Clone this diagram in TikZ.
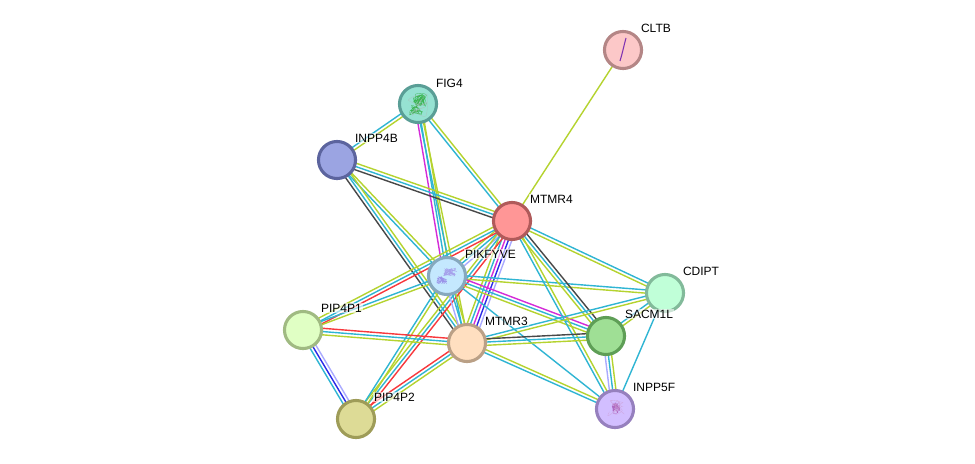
\documentclass[tikz,border=0pt]{standalone}
\usepackage{fontspec}
\setmainfont{Liberation Sans}
\usetikzlibrary{calc,backgrounds}
\definecolor{cy}{HTML}{2FB5D3}
\definecolor{yl}{HTML}{B5D32F}
\definecolor{rd}{HTML}{F8383C}
\definecolor{bl}{HTML}{2A2AE8}
\definecolor{mg}{HTML}{D42BD8}
\definecolor{lv}{HTML}{AAAAFF}
\definecolor{dk}{HTML}{484848}
\definecolor{fcltb}{HTML}{FCC8C8}\definecolor{dcltb}{HTML}{B48686}
\definecolor{ffig}{HTML}{96E2D2}\definecolor{dfig}{HTML}{5A9E96}
\definecolor{finpb}{HTML}{9BA4E2}\definecolor{dinpb}{HTML}{5C649E}
\definecolor{fmtmf}{HTML}{FF9696}\definecolor{dmtmf}{HTML}{B05A5A}
\definecolor{fpik}{HTML}{C4E8FE}\definecolor{dpik}{HTML}{86A8BE}
\definecolor{fcdipt}{HTML}{C0FFD8}\definecolor{dcdipt}{HTML}{82BA9A}
\definecolor{fsac}{HTML}{9FDF95}\definecolor{dsac}{HTML}{5E9E56}
\definecolor{fmtmt}{HTML}{FFDFC0}\definecolor{dmtmt}{HTML}{BAA086}
\definecolor{fpa}{HTML}{E0FFC4}\definecolor{dpa}{HTML}{A0BA82}
\definecolor{fpb}{HTML}{DDDB96}\definecolor{dpb}{HTML}{9E9C58}
\definecolor{finpf}{HTML}{D2BEFF}\definecolor{dinpf}{HTML}{9680BE}
\tikzset{
  x=0.75pt,y=-0.75pt,
  prot/.style={circle,draw=d#1,fill=f#1,line width=2.3pt,minimum size=27.8pt,inner sep=0pt},
  lab/.style={anchor=west,font=\fontsize{9}{10}\selectfont,text=black,fill=white,fill opacity=.6,text opacity=1,inner sep=.6pt},
  linkline/.style={line width=1.05pt},
  scrib/.style={line width=.2pt,opacity=.6},
}
% first colour lies on the right-hand side of the direction a -> b
\newcommand{\netlink}[4]{%
  \foreach \colr [count=\i] in {#4}{%
    \pgfmathsetmacro{\off}{(\i-(#3+1)/2)*2.45}%
    \draw[linkline,\colr] ($(#1)!\off pt!90:(#2)$) -- ($(#2)!\off pt!-90:(#1)$);
  }}
\newcommand{\scribble}[6]{% cx cy rx ry colour samples
  \draw[scrib,#5] plot[smooth,samples=#6,domain=1:#6] ({#1+#3*rand},{#2+#4*rand});}
\begin{document}
\begin{tikzpicture}
\useasboundingbox (0,0) rectangle (975,464);
\node[prot=cltb] (cltb) at (623,50) {};
\node[prot=fig] (fig) at (418,104) {};
\node[prot=inpb] (inpb) at (337,160) {};
\node[prot=mtmf] (mtmf) at (512,221) {};
\node[prot=pik] (pik) at (447,276) {};
\node[prot=cdipt] (cdipt) at (665,293) {};
\node[prot=sac] (sac) at (606,336) {};
\node[prot=mtmt] (mtmt) at (467,343) {};
\node[prot=pa] (pa) at (303,330) {};
\node[prot=pb] (pb) at (356,419) {};
\node[prot=inpf] (inpf) at (615,409) {};
\begin{pgfonlayer}{background}
\fill[white] (0,0) rectangle (975,464);
\netlink{mtmf}{cltb}{1}{yl}
\netlink{inpb}{fig}{2}{yl,cy}
\netlink{fig}{mtmf}{2}{cy,yl}
\netlink{fig}{pik}{3}{mg,cy,yl}
\netlink{fig}{mtmt}{2}{cy,yl}
\netlink{inpb}{mtmf}{3}{dk,cy,yl}
\netlink{inpb}{pik}{2}{cy,yl}
\netlink{inpb}{mtmt}{3}{dk,cy,yl}
\netlink{mtmf}{pik}{3}{yl,cy,lv}
\netlink{mtmf}{mtmt}{5}{yl,cy,mg,bl,lv}
\netlink{pa}{mtmf}{3}{rd,cy,yl}
\netlink{pa}{pik}{2}{yl,cy}
\netlink{mtmf}{pb}{3}{yl,cy,rd}
\netlink{pik}{pb}{2}{cy,yl}
\netlink{mtmt}{pa}{3}{rd,cy,yl}
\netlink{mtmt}{pb}{3}{rd,cy,yl}
\netlink{pa}{pb}{3}{cy,bl,lv}
\netlink{pik}{mtmt}{3}{lv,cy,yl}
\netlink{pik}{cdipt}{2}{yl,cy}
\netlink{pik}{sac}{3}{yl,cy,mg}
\netlink{pik}{inpf}{1}{cy}
\netlink{mtmf}{cdipt}{2}{yl,cy}
\netlink{mtmf}{sac}{3}{yl,cy,dk}
\netlink{mtmf}{inpf}{2}{cy,yl}
\netlink{mtmt}{cdipt}{2}{yl,cy}
\netlink{mtmt}{sac}{3}{yl,cy,dk}
\netlink{mtmt}{inpf}{2}{cy,yl}
\netlink{sac}{cdipt}{2}{yl,cy}
\netlink{sac}{inpf}{3}{lv,cy,yl}
\netlink{cdipt}{inpf}{1}{cy}
\end{pgfonlayer}
\pgfmathsetseed{7}
% protein structure sketches
\draw[line width=.8pt,color=violet!75!blue!80] (626,38) .. controls (624,45) and (623,51) .. (620,61);
\scribble{420}{100}{7}{6}{green!60!black}{45}
\scribble{416}{110}{7}{5}{green!60!black}{25}
\scribble{417}{104}{11}{12}{gray!60}{14}
\scribble{450}{272}{7}{4}{violet!45!blue!55}{40}
\scribble{442}{280}{5}{4}{violet!45!blue!65}{35}
\scribble{616}{408}{4}{5}{violet!80}{35}
\scribble{616}{408}{9}{8}{violet!40}{18}
\node[lab] (lcltb) at (640,28) {CLTB};
\node[lab] (lfig) at (435,83) {FIG4};
\node[lab] (linpb) at (354,138) {INPP4B};
\node[lab] (lmtmf) at (529,199) {MTMR4};
\node[lab] (lpik) at (464,254) {PIKFYVE};
\node[lab] (lcdipt) at (682,271) {CDIPT};
\node[lab] (lsac) at (624,314) {SACM1L};
\node[lab] (lmtmt) at (484,321) {MTMR3};
\node[lab] (lpa) at (320,308) {PIP4P1};
\node[lab] (lpb) at (373,397) {PIP4P2};
\node[lab] (linpf) at (632,387) {INPP5F};
\end{tikzpicture}
\end{document}
